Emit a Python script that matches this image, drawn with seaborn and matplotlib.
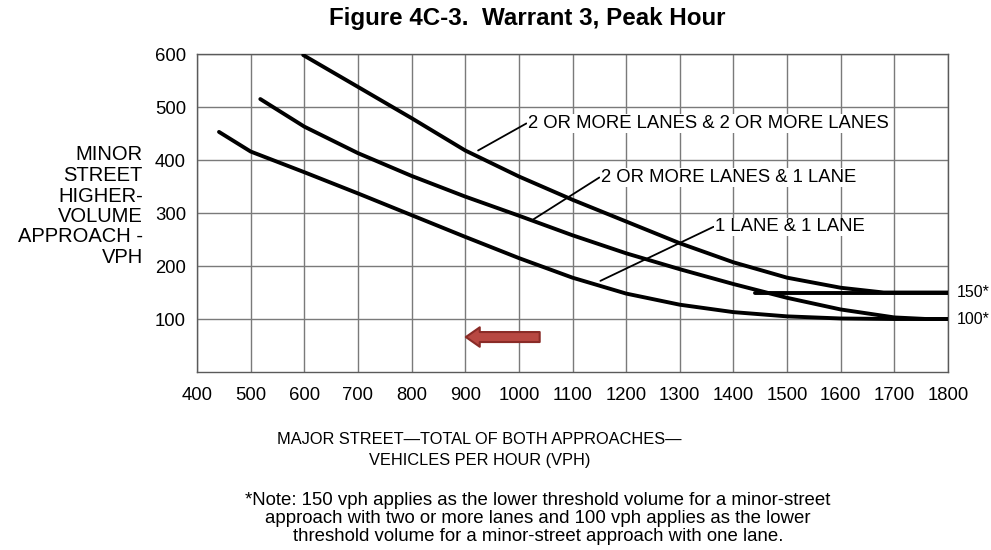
import pandas as pd
import seaborn as sns
import matplotlib.pyplot as plt

# curve values (major street vph, minor street vph)
major_2_2 = [598, 700, 800, 900, 1000, 1100, 1200, 1300, 1400, 1500, 1600, 1680, 1800]
minor_2_2 = [598, 538, 479, 418, 369, 325, 284, 243, 207, 178, 159, 150, 150]

major_2_1 = [518, 600, 700, 800, 900, 1000, 1100, 1200, 1300, 1400, 1500, 1600, 1700, 1760, 1800]
minor_2_1 = [515, 463, 413, 370, 331, 295, 258, 224, 194, 166, 140, 118, 103, 100, 100]

major_1_1 = [441, 500, 600, 700, 800, 900, 1000, 1100, 1200, 1300, 1400, 1500, 1600, 1700, 1800]
minor_1_1 = [453, 416, 377, 337, 296, 255, 215, 178, 148, 127, 113, 105, 101, 100, 100]

# lower threshold line for two-or-more-lane minor approach
major_150 = [1440, 1800]
minor_150 = [150, 150]

curvas = pd.concat([
    pd.DataFrame({"major": major_2_2, "minor": minor_2_2, "curva": "2+ & 2+"}),
    pd.DataFrame({"major": major_2_1, "minor": minor_2_1, "curva": "2+ & 1"}),
    pd.DataFrame({"major": major_1_1, "minor": minor_1_1, "curva": "1 & 1"}),
    pd.DataFrame({"major": major_150, "minor": minor_150, "curva": "150"}),
])

sns.set_style("white")
plt.rcParams["font.family"] = ["Liberation Sans", "DejaVu Sans"]
plt.rcParams["text.color"] = "black"
plt.rcParams["xtick.color"] = "black"
plt.rcParams["ytick.color"] = "black"

fig = plt.figure(figsize=(9.91, 5.5), dpi=100)
ax = fig.add_axes([0.1988, 0.3236, 0.7578, 0.5782])

sns.lineplot(
    data=curvas, x="major", y="minor", hue="curva",
    palette={"2+ & 2+": "black", "2+ & 1": "black", "1 & 1": "black", "150": "black"},
    estimator=None, sort=False, legend=False, linewidth=2.8, ax=ax, zorder=3,
)

ax.set_xlim(400, 1800)
ax.set_ylim(0, 600)
ax.set_xticks(range(400, 1801, 100))
ax.set_yticks(range(100, 601, 100))
ax.grid(True, color="#7a7a7a", linewidth=1.0)
for s in ax.spines.values():
    s.set_color("#5a5a5a")
    s.set_linewidth(1.0)
ax.tick_params(axis="both", labelsize=13.3, length=3, color="#6a6a6a", pad=5)
ax.tick_params(axis="x", pad=8)
ax.set_xlabel("")
ax.set_ylabel("")

# curve labels with leader lines
rotulos = [
    ("2 OR MORE LANES & 2 OR MORE LANES", (1014, 469), (924, 418)),
    ("2 OR MORE LANES & 1 LANE", (1150, 367), (1027, 288)),
    ("1 LANE & 1 LANE", (1363, 274), (1152, 172)),
]
for texto, pos, alvo in rotulos:
    ax.plot([pos[0], alvo[0]], [pos[1], alvo[1]], color="black", linewidth=1.3, zorder=3)
    ax.text(pos[0] + 3, pos[1], texto, fontsize=13.3, va="center", ha="left", zorder=4,
            bbox=dict(facecolor="white", edgecolor="none", pad=0.5))

ax.text(1816, 150, "150*", fontsize=11.5, va="center", ha="left", clip_on=False)
ax.text(1816, 100, "100*", fontsize=11.5, va="center", ha="left", clip_on=False)

# red arrow
ax.annotate("", xy=(896, 66), xytext=(1044, 66),
            arrowprops=dict(arrowstyle="simple,head_width=0.7,head_length=0.5,tail_width=0.36",
                            mutation_scale=20, fc="#b84842", ec="#8a2b27", lw=1.5),
            zorder=5)

fig.text(0.532, 0.967, "Figure 4C-3.  Warrant 3, Peak Hour", fontsize=17.4, fontweight="bold",
         ha="center", va="center")
fig.text(0.144, 0.625, "MINOR\nSTREET\nHIGHER-\nVOLUME\nAPPROACH -\nVPH", fontsize=14.5,
         ha="right", va="center", multialignment="right", linespacing=1.1)
fig.text(0.484, 0.182, "MAJOR STREET\u2014TOTAL OF BOTH APPROACHES\u2014\nVEHICLES PER HOUR (VPH)",
         fontsize=11.8, ha="center", va="center", multialignment="center", linespacing=1.5)
fig.text(0.543, 0.057,
         "*Note: 150 vph applies as the lower threshold volume for a minor-street\n"
         "approach with two or more lanes and 100 vph applies as the lower\n"
         "threshold volume for a minor-street approach with one lane.",
         fontsize=13.4, ha="center", va="center", multialignment="center", linespacing=1.1)

fig.savefig("out.png", dpi=100)
